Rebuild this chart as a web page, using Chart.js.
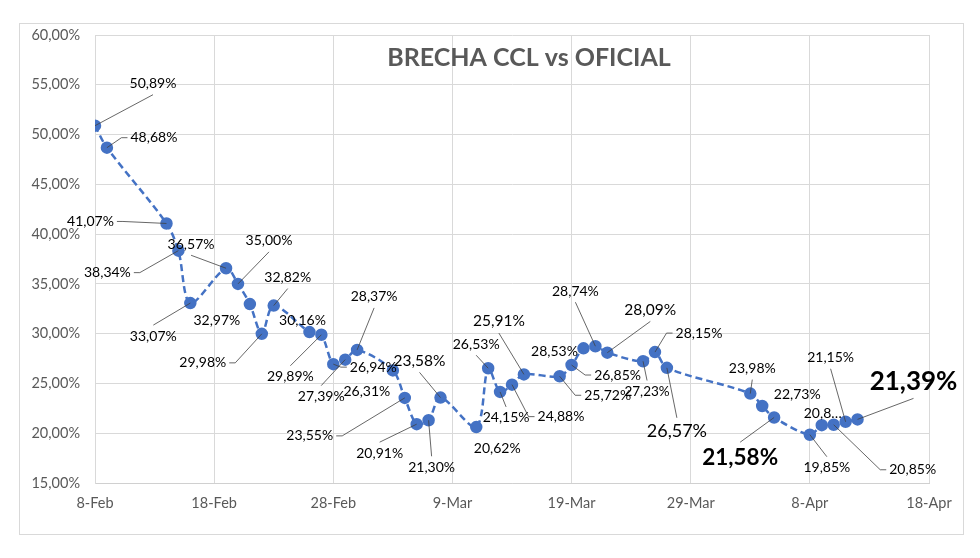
<!DOCTYPE html>
<html><head><meta charset="utf-8">
<script src="https://cdn.jsdelivr.net/npm/chart.js@4.4.1/dist/chart.umd.min.js"></script>
<style>html,body{margin:0;padding:0;background:#fff;}</style>
</head><body>
<canvas id="c" width="980" height="558"></canvas>
<script>
// ---- data ----
const chartTitle = "BRECHA CCL vs OFICIAL";
const axisStart = "2024-02-08";
const dates = ["2024-02-08","2024-02-09","2024-02-14","2024-02-15","2024-02-16","2024-02-19","2024-02-20","2024-02-21","2024-02-22","2024-02-23","2024-02-26","2024-02-27","2024-02-28","2024-02-29","2024-03-01","2024-03-04","2024-03-05","2024-03-06","2024-03-07","2024-03-08","2024-03-11","2024-03-12","2024-03-13","2024-03-14","2024-03-15","2024-03-18","2024-03-19","2024-03-20","2024-03-21","2024-03-22","2024-03-25","2024-03-26","2024-03-27","2024-04-03","2024-04-04","2024-04-05","2024-04-08","2024-04-09","2024-04-10","2024-04-11","2024-04-12"];
const brecha = [50.89,48.68,41.07,38.34,33.07,36.57,35.00,32.97,29.98,32.82,30.16,29.89,26.94,27.39,28.37,26.31,23.55,20.91,21.30,23.58,20.62,26.53,24.15,24.88,25.91,25.72,26.85,28.53,28.74,28.09,27.23,28.15,26.57,23.98,22.73,21.58,19.85,20.81,20.85,21.15,21.39];
const xTickLabels = ["8-Feb","18-Feb","28-Feb","9-Mar","19-Mar","29-Mar","8-Apr","18-Apr"];
const yTickValues = [15,20,25,30,35,40,45,50,55,60];

// ---- label layout (offsets of label centre from its point, font sizes) ----
const labelDx = [58,47,-76,-71,-37,-35,31,-33,-59,14,-7,-31,40,-24,17,-26,-95,-37,3,-21,21,-12,6,49,-25,48,46,-29,-20,43,4,44,10,2,35,-34,17,1,79,-15,56];
const labelDy = [-42,-10,-2,22,33,-24,-43,16,29,-28,-12,42,3,37,-53,21,38,29,47,-37,21,-24,26,32,-53,19,10,3,-55,-43,30,-19,63,-25,-12,40,33,-12,45,-64,-38];
const labelSize = [14,14,14,14,14,14,14,14,14,14,14,14,14,14,14,14,14,14,14,15.5,14,14,14,14,15.5,14,14,14,14,15.5,13.5,14,18,14,14,22.5,14,14,14,14,26];
const labelBold = [35,40];
const labelClip = {37:4};

const days = dates.map(d => (Date.parse(d) - Date.parse(axisStart)) / 86400000);
const fmt = v => v.toFixed(2).replace('.', ',') + '%';

const frame = {
  id: 'frame',
  beforeDraw(chart) {
    const ctx = chart.ctx;
    ctx.save();
    ctx.fillStyle = '#fff';
    ctx.fillRect(0, 0, chart.width, chart.height);
    ctx.strokeStyle = '#d9d9d9';
    ctx.lineWidth = 1;
    ctx.strokeRect(19.5, 23.5, 944, 511);
    ctx.restore();
  },
  afterDatasetsDraw(chart) {
    const ctx = chart.ctx;
    ctx.save();
    ctx.fillStyle = '#595959';
    ctx.font = 'bold 25px Lato';
    ctx.textAlign = 'center';
    ctx.textBaseline = 'middle';
    ctx.fillText(chartTitle, 529, 58);
    const meta = chart.getDatasetMeta(0);
    meta.data.forEach((pt, i) => {
      const bold = labelBold.includes(i);
      const size = labelSize[i];
      ctx.font = (bold ? 'bold ' : '') + size + 'px Lato';
      let txt = fmt(brecha[i]);
      if (labelClip[i] !== undefined) txt = txt.slice(0, labelClip[i]) + '…';
      const cx = pt.x + labelDx[i], cy = pt.y + labelDy[i];
      const w = ctx.measureText(txt).width, h = size;
      const hgap = Math.abs(labelDx[i]) - w / 2;
      const vgap = Math.abs(labelDy[i]) - h / 2;
      if (Math.max(hgap, vgap) > 16) {
        ctx.strokeStyle = '#404040';
        ctx.lineWidth = 0.8;
        ctx.beginPath();
        if (hgap > vgap) {
          const side = labelDx[i] > 0 ? -1 : 1;
          const ex = cx + side * (w / 2 + 3);
          ctx.moveTo(ex, cy);
          ctx.lineTo(ex + side * 6, cy);
          ctx.lineTo(pt.x, pt.y);
        } else {
          const side = labelDy[i] > 0 ? -1 : 1;
          const ey = cy + side * (h / 2 + 4);
          ctx.moveTo(cx, ey);
          ctx.lineTo(pt.x, pt.y);
        }
        ctx.stroke();
      }
      ctx.fillStyle = '#000';
      ctx.textAlign = 'center';
      ctx.textBaseline = 'middle';
      ctx.fillText(txt, cx, cy);
    });
    ctx.restore();
  }
};

new Chart(document.getElementById('c'), {
  type: 'line',
  data: {
    datasets: [{
      data: days.map((d, i) => ({x: d, y: brecha[i]})),
      borderColor: '#4472C4',
      backgroundColor: '#4472C4',
      borderWidth: 2.5,
      borderDash: [7, 4],
      tension: 0.3,
      pointRadius: 5,
      pointBackgroundColor: '#4472C4',
      pointBorderColor: '#4472C4',
      fill: false
    }]
  },
  options: {
    responsive: false,
    devicePixelRatio: 1,
    animation: false,
    layout: {padding: {top: 35, right: 51, left: 0, bottom: 0}},
    plugins: {legend: {display: false}, tooltip: {enabled: false}},
    scales: {
      x: {
        type: 'linear', min: 0, max: 70,
        afterFit: s => { s.height = 75; },
        afterBuildTicks: s => { s.ticks = xTickLabels.map((l, i) => ({value: i * 10})); },
        ticks: {callback: (v, i) => xTickLabels[i], color: '#595959', font: {family: 'Lato', size: 14.5}, padding: 12, maxRotation: 0, autoSkip: false},
        grid: {color: '#d9d9d9', drawTicks: false},
        border: {color: '#d0d0d0'}
      },
      y: {
        min: 15, max: 60,
        afterFit: s => { s.width = 95; },
        afterBuildTicks: s => { s.ticks = yTickValues.map(v => ({value: v})); },
        ticks: {callback: v => fmt(v), color: '#595959', font: {family: 'Lato', size: 14.5}, padding: 15},
        grid: {color: '#d9d9d9', drawTicks: false},
        border: {color: '#d9d9d9'}
      }
    }
  },
  plugins: [frame]
});
</script>
</body></html>
